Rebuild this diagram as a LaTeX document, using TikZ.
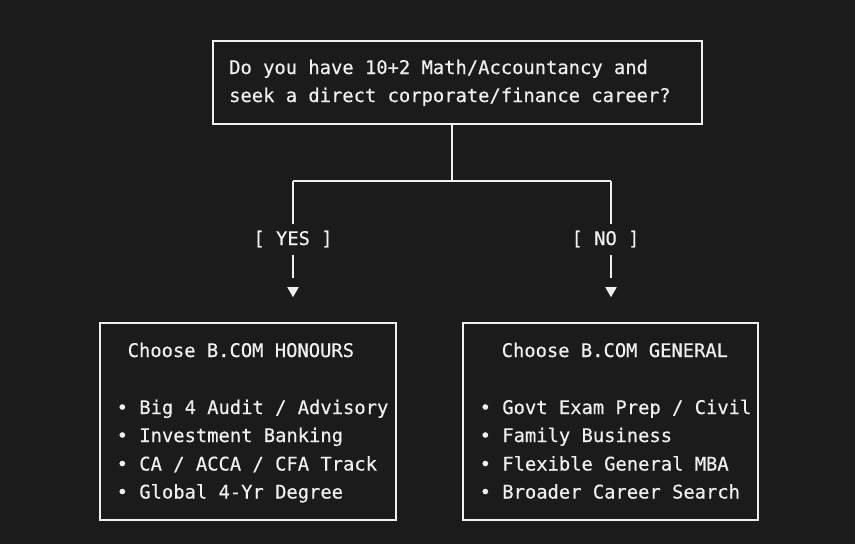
\documentclass[tikz,border=0pt]{standalone}
\usepackage{fontspec}
\newfontfamily\monof[FakeBold=0.4]{DejaVu Sans Mono}
\usetikzlibrary{arrows.meta}
\definecolor{bg}{HTML}{1B1B1B}
\definecolor{fg}{HTML}{F0F0F0}
\begin{document}
\begin{tikzpicture}[x=1pt,y=-1pt,
  box/.style={draw=fg, line width=1.6pt, inner sep=0pt},
  txt/.style={anchor=base west, inner sep=0pt, text=fg, font=\monof\fontsize{18.8}{28}\selectfont},
  lbl/.style={anchor=base, inner xsep=0pt, inner ysep=7pt, text=fg, font=\monof\fontsize{18.8}{28}\selectfont},
  conn/.style={draw=fg, line width=1.6pt},
  arr/.style={-{Triangle[width=11pt,length=10pt]}}]
\fill[bg] (0,0) rectangle (855,544);
\useasboundingbox (0,0) rectangle (855,544);
% question box
\node[box, minimum width=489pt, minimum height=83pt] (q) at (457.5,82.5) {};
\node[txt] (q1) at (229,74) {Do you have 10+2 Math/Accountancy and};
\node[txt] (q2) at (229,102) {seek a direct corporate/finance career?};
% junction
\coordinate (j) at (452,181);
\coordinate (jl) at (293,181);
\coordinate (jr) at (611,181);
\node[lbl] (yes) at (293,245) {[ YES ]};
\node[lbl] (no) at (605.5,245) {[ NO ]};
% result boxes
\node[box, minimum width=296pt, minimum height=197pt] (hon) at (248,421.5) {};
\node[box, minimum width=295pt, minimum height=197pt] (gen) at (610.5,421.5) {};
% connectors
\draw[conn] (q.south -| j) -- (j);
\draw[conn] (jl) -- (jr);
\draw[conn] (jl) -- (jl |- yes.north);
\draw[conn] (jr) -- (jr |- no.north);
\draw[conn] (jl |- yes.south) -- ([yshift=44pt]jl |- hon.north);
\draw[conn] (jr |- no.south) -- ([yshift=44pt]jr |- gen.north);
\draw[conn,arr] ([yshift=35pt]jl |- hon.north) -- ([yshift=25pt]jl |- hon.north);
\draw[conn,arr] ([yshift=35pt]jr |- gen.north) -- ([yshift=25pt]jr |- gen.north);
% honours text
\node[txt] (h0) at (127.5,357) {Choose B.COM HONOURS};
\node[txt] (h1) at (116.5,414) {• Big 4 Audit / Advisory};
\node[txt] (h2) at (116.5,442) {• Investment Banking};
\node[txt] (h3) at (116.5,470.5) {• CA / ACCA / CFA Track};
\node[txt] (h4) at (116.5,498.5) {• Global 4-Yr Degree};
% general text
\node[txt] (g0) at (501.5,357) {Choose B.COM GENERAL};
\node[txt] (g1) at (479.5,414) {• Govt Exam Prep / Civil};
\node[txt] (g2) at (479.5,442) {• Family Business};
\node[txt] (g3) at (479.5,470.5) {• Flexible General MBA};
\node[txt] (g4) at (479.5,498.5) {• Broader Career Search};
\end{tikzpicture}
\end{document}
